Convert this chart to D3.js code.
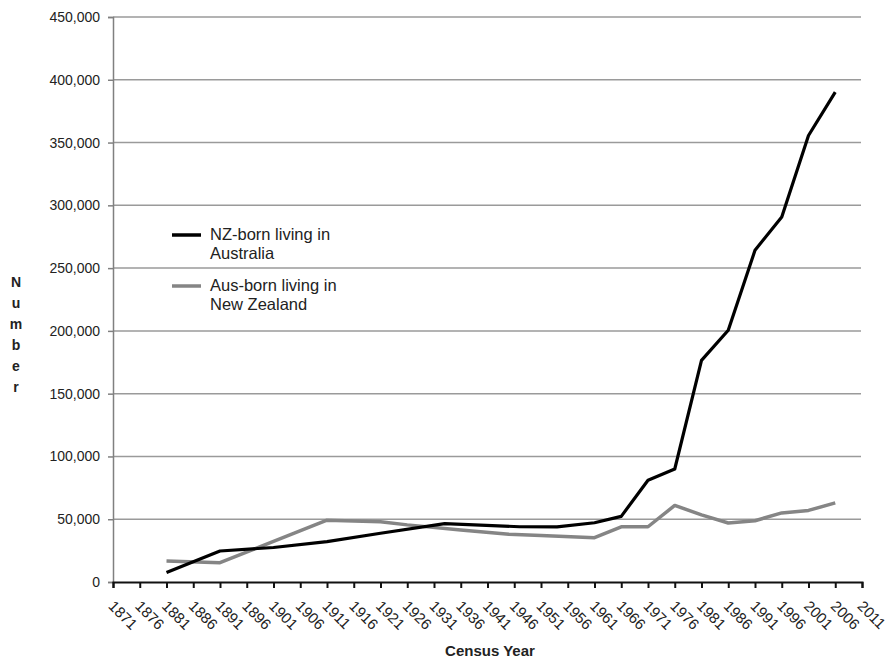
<!DOCTYPE html>
<html>
<head>
<meta charset="utf-8">
<script src="https://cdn.jsdelivr.net/npm/d3@7"></script>
<style>
  html, body { margin: 0; padding: 0; background: #fff; }
  svg { display: block; font-family: "Liberation Sans", Arial, sans-serif; }
</style>
</head>
<body>
<svg id="chart" width="890" height="661"></svg>
<script>
// ---- data ----
const nzYears  = [1881, 1891, 1901, 1911, 1921, 1933, 1947, 1954, 1961, 1966, 1971, 1976, 1981, 1986, 1991, 1996, 2001, 2006];
const nzValues = [7500, 24700, 27500, 32100, 38800, 46500, 44000, 43900, 47200, 52300, 81000, 90000, 176500, 200500, 264200, 290800, 355600, 390200];

const ausYears  = [1881, 1891, 1911, 1921, 1926, 1936, 1945, 1951, 1961, 1966, 1971, 1976, 1981, 1986, 1991, 1996, 2001, 2006];
const ausValues = [16700, 15400, 49200, 48000, 45500, 41500, 38000, 37000, 35300, 44000, 44000, 61000, 53500, 47000, 48800, 55000, 57000, 63000];

const seriesNames = ["NZ-born living in|Australia", "Aus-born living in|New Zealand"];
const xTicks = d3.range(1871, 2012, 5);
const yTicks = d3.range(0, 450001, 50000);
const yTitle = "Number";
const xTitle = "Census Year";

// ---- layout ----
const svg = d3.select("#chart");
const mLeft = 113, mRight = 862, mTop = 17, mBottom = 582;

const x = d3.scaleLinear().domain([1871, 2011]).range([mLeft, mRight]);
const y = d3.scaleLinear().domain([0, 450000]).range([mBottom, mTop]);

// gridlines
svg.append("g").selectAll("line")
  .data(yTicks.filter(d => d > 0))
  .join("line")
  .attr("x1", mLeft).attr("x2", mRight - 1)
  .attr("y1", d => y(d)).attr("y2", d => y(d))
  .attr("stroke", "#9a9a9a").attr("stroke-width", 1.5);

// y axis
const yAxis = d3.axisLeft(y).tickValues(yTicks).tickSize(5).tickPadding(8)
  .tickFormat(d3.format(","));
const gy = svg.append("g").attr("transform", `translate(${mLeft},0)`).call(yAxis);
gy.select(".domain").attr("stroke", "#808080").attr("stroke-width", 1.5);
gy.selectAll(".tick line").attr("stroke", "#808080").attr("stroke-width", 1.5);
gy.selectAll(".tick text").attr("font-size", 14).attr("fill", "#222")
  .attr("font-family", "'Liberation Sans', Arial, sans-serif");

// x axis
const xAxis = d3.axisBottom(x).tickValues(xTicks).tickSize(6).tickFormat(d3.format("d"));
const gx = svg.append("g").attr("transform", `translate(0,${mBottom})`).call(xAxis);
gx.select(".domain").attr("stroke", "#111").attr("stroke-width", 2);
gx.selectAll(".tick line").attr("stroke", "#111").attr("stroke-width", 2);
gx.selectAll(".tick text")
  .attr("font-size", 15).attr("fill", "#222")
  .attr("font-family", "'Liberation Sans', Arial, sans-serif")
  .attr("text-anchor", "start")
  .attr("y", 0).attr("dy", 0)
  .attr("transform", "translate(-6,25) rotate(45)");

// lines
const line = d3.line().x(d => x(d[0])).y(d => y(d[1]));
const nzData = nzYears.map((yr, i) => [yr, nzValues[i]]);
const ausData = ausYears.map((yr, i) => [yr, ausValues[i]]);

svg.append("path").datum(ausData).attr("d", line)
  .attr("fill", "none").attr("stroke", "#858585").attr("stroke-width", 3.5)
  .attr("stroke-linejoin", "round");
svg.append("path").datum(nzData).attr("d", line)
  .attr("fill", "none").attr("stroke", "#000").attr("stroke-width", 3.2)
  .attr("stroke-linejoin", "round");

// legend
const legend = svg.append("g");
const legendColors = ["#000", "#858585"];
const legendY = [235, 286];
seriesNames.forEach((name, i) => {
  legend.append("line")
    .attr("x1", 172).attr("x2", 201)
    .attr("y1", legendY[i]).attr("y2", legendY[i])
    .attr("stroke", legendColors[i]).attr("stroke-width", 3.5);
  const parts = name.split("|");
  parts.forEach((p, j) => {
    legend.append("text")
      .attr("x", 210).attr("y", legendY[i] + 5 + j * 19)
      .attr("font-size", 16.5).attr("fill", "#222")
      .text(p);
  });
});

// y title, stacked letters
svg.append("g").selectAll("text")
  .data(yTitle.split(""))
  .join("text")
  .attr("x", 16).attr("y", (d, i) => 287 + i * 21)
  .attr("text-anchor", "middle")
  .attr("font-size", 14).attr("font-weight", "bold").attr("fill", "#222")
  .text(d => d);

// x title
svg.append("text")
  .attr("x", 490).attr("y", 656)
  .attr("text-anchor", "middle")
  .attr("font-size", 15).attr("font-weight", "bold").attr("fill", "#222")
  .text(xTitle);
</script>
</body>
</html>
